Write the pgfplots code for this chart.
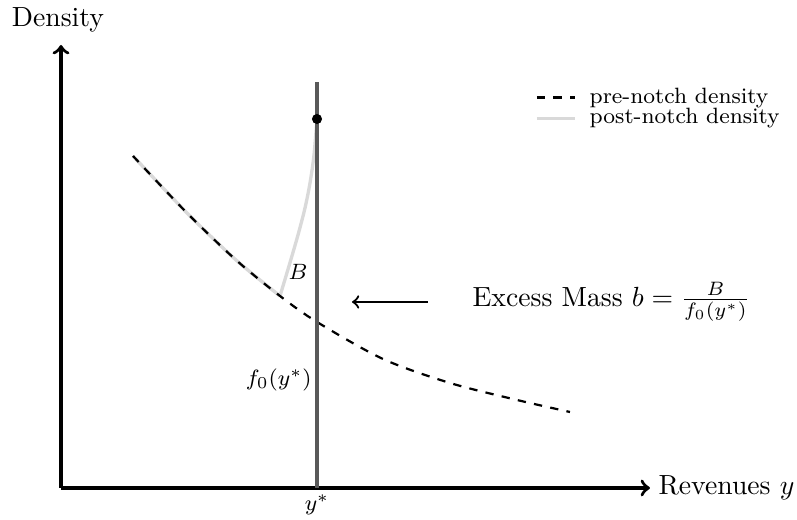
\documentclass[border=0pt]{standalone}
\usepackage{pgfplots}
\pgfplotsset{compat=1.18}
\begin{document}
\begin{tikzpicture}
\begin{axis}[
    x=0.361pt, y=0.361pt,
    xmin=0, xmax=589, ymin=0, ymax=443,
    axis lines=left,
    axis line style={very thick, ->},
    xtick=\empty, ytick=\empty,
    clip=false,
    legend style={draw=none, fill=none, font=\footnotesize,
        at={(rel axis cs:0.79,0.93)}, anchor=north west,
        row sep=-3.5pt, legend cell align=left},
    legend image code/.code={\draw[#1] (0cm,0cm) -- (0.48cm,0cm); \path (0.58cm,0cm);},
    reverse legend,
]
% bounding box of the figure
\path (axis cs:-61,-32) rectangle (axis cs:736,488);

% post-notch density
\addplot[gray!30, line width=1.2pt, smooth, tension=0.5] coordinates {
    (72,332) (126,275) (175,228) (219,192)
};
\addplot[gray!30, line width=1.2pt, smooth, tension=0.5, forget plot] coordinates {
    (219,192) (228,222) (237,253) (244,280) (249,305) (253,333) (256,369)
};
\addlegendentry{post-notch density}

% pre-notch density
\addplot[black, thick, dashed, smooth, tension=0.5] coordinates {
    (72,332) (126,275) (175,228) (219,192) (256,166) (322,129) (389,105) (456,88) (509,76)
};
\addlegendentry{pre-notch density}

% notch
\addplot[black!65, line width=1.1pt, forget plot] coordinates {(256,0) (256,406)};
\addplot[only marks, mark=*, mark size=1.6pt, black, forget plot] coordinates {(256,369)};

\draw[thick, ->] (axis cs:367,186) -- (axis cs:291,186);

\node[inner sep=0pt] at (axis cs:-3,468) {Density};
\node[inner sep=0pt, anchor=west] at (axis cs:597,0) {Revenues $y$};
\node[inner sep=0pt, font=\footnotesize] at (axis cs:256,-17) {$y^*$};
\node[inner sep=0pt, font=\footnotesize] at (axis cs:237,216) {$B$};
\node[inner sep=0pt, font=\footnotesize, anchor=east] at (axis cs:251,108) {$f_0(y^*)$};
\node[inner sep=0pt, anchor=west] at (axis cs:411,186) {Excess Mass $b=\frac{B}{f_0(y^*)}$};
\end{axis}
\end{tikzpicture}
\end{document}
